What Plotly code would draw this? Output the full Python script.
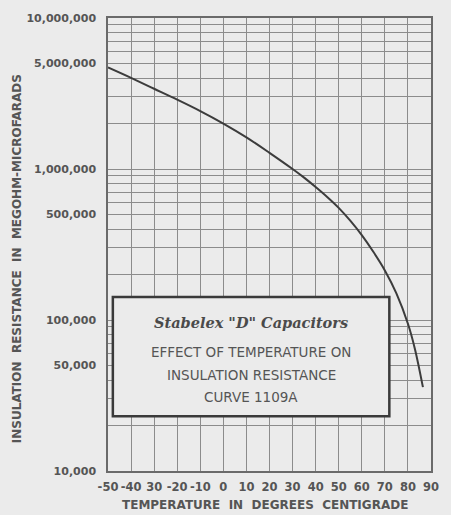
import plotly.graph_objects as go

# ---- data ----
temperature_c = [-50, -40, -30, -20, -10, 0, 10, 20, 30, 35, 40, 45, 50, 55, 60, 65, 70, 75, 80, 83, 86.5]
resistance = [4.70e6, 4.01e6, 3.40e6, 2.88e6, 2.42e6, 2.00e6, 1.62e6, 1.28e6, 1.00e6,
              877e3, 760e3, 653e3, 553e3, 455e3, 365e3, 283e3, 213e3, 150e3, 94.4e3, 64.6e3, 35.9e3]

x_tickvals = [-50, -40, -30, -20, -10, 0, 10, 20, 30, 40, 50, 60, 70, 80, 90]
x_ticktext = ["-50", "-40", "30", "-20", "-10", "0", "10", "20", "30", "40", "50", "60", "70", "80", "90"]

y_labeled = {1e4: "10,000", 5e4: "50,000", 1e5: "100,000", 5e5: "500,000",
             1e6: "1,000,000", 5e6: "5,000,000", 1e7: "10,000,000"}
y_tickvals = [m * 10 ** e for e in (4, 5, 6) for m in range(1, 10)] + [1e7]
y_ticktext = [y_labeled.get(v, "") for v in y_tickvals]

box_title = "Stabelex \"D\" Capacitors"
box_lines = ["EFFECT OF TEMPERATURE ON", "INSULATION RESISTANCE", "CURVE 1109A"]
x_title = "TEMPERATURE  IN  DEGREES  CENTIGRADE"
y_title = "INSULATION  RESISTANCE  IN  MEGOHM-MICROFARADS"

BG = "#ebebeb"
TXT = "#555555"
GRID = "#8c8c8c"
FONT = "DejaVu Sans"

fig = go.Figure()
fig.add_trace(go.Scatter(
    x=temperature_c, y=resistance, mode="lines",
    line=dict(color="#3c3c3c", width=2, shape="spline", smoothing=1.0),
    showlegend=False, hoverinfo="skip"))

fig.update_layout(
    width=451, height=515,
    margin=dict(l=108, r=17, t=15, b=44),
    paper_bgcolor=BG, plot_bgcolor=BG,
    font=dict(family=FONT, color=TXT),
    xaxis=dict(
        range=[-50, 90], tickmode="array", tickvals=x_tickvals, ticktext=x_ticktext,
        showgrid=True, gridcolor=GRID, gridwidth=1, zeroline=False,
        showline=True, linecolor="#6a6a6a", linewidth=1.5, mirror=True,
        ticks="", ticklabelstandoff=4,
        tickfont=dict(family=FONT, size=11.5, color=TXT, weight="bold"),
    ),
    yaxis=dict(
        type="log", range=[4, 7], tickmode="array", tickvals=y_tickvals, ticktext=y_ticktext,
        showgrid=True, gridcolor=GRID, gridwidth=1, zeroline=False,
        showline=True, linecolor="#6a6a6a", linewidth=1.5, mirror=True,
        ticks="", ticklabelstandoff=8,
        tickfont=dict(family=FONT, size=11, color=TXT, weight="bold"),
    ),
)

# caption box
fig.add_shape(type="rect", xref="paper", yref="paper",
              x0=0.015, x1=0.871, y0=0.121, y1=0.384,
              fillcolor=BG, line=dict(color="#3a3a3a", width=2.5), layer="above")

box_cx = (0.015 + 0.871) / 2
fig.add_annotation(xref="paper", yref="paper", x=box_cx, y=(471 - 322) / 456,
                   text="<b><i>" + box_title + "</i></b>", showarrow=False,
                   font=dict(family="DejaVu Serif", size=14.5, color="#4a4a4a"),
                   xanchor="center", yanchor="middle")
for i, line in enumerate(box_lines):
    ypix = 351 + 23 * i
    fig.add_annotation(xref="paper", yref="paper", x=box_cx, y=(471 - ypix) / 456,
                       text=line, showarrow=False,
                       font=dict(family=FONT, size=13.5, color=TXT),
                       xanchor="center", yanchor="middle")

# axis titles
fig.add_annotation(xref="paper", yref="paper", x=(266 - 108) / 326, y=(471 - 505) / 456,
                   text=x_title, showarrow=False,
                   font=dict(family=FONT, size=12, color=TXT, weight="bold"),
                   xanchor="center", yanchor="middle")
fig.add_annotation(xref="paper", yref="paper", x=(17 - 108) / 326, y=(471 - 257) / 456,
                   text=y_title, showarrow=False, textangle=-90,
                   font=dict(family=FONT, size=12, color=TXT, weight="bold"),
                   xanchor="center", yanchor="middle")

fig.write_html("out.html", config={"displayModeBar": False})

# remove default page margins so the 451x515 figure fits the window exactly
with open("out.html", "r", encoding="utf-8") as f:
    html = f.read()
html = html.replace("<head>", "<head><style>html,body{margin:0;padding:0;overflow:hidden;background:#ebebeb;}</style>", 1)
with open("out.html", "w", encoding="utf-8") as f:
    f.write(html)
